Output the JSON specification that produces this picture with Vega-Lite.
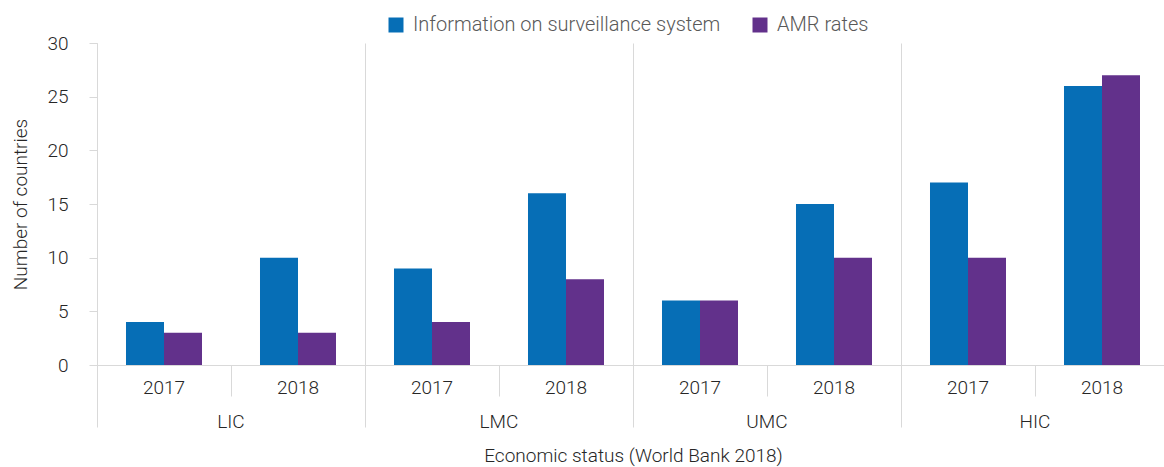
{
  "$schema": "https://vega.github.io/schema/vega-lite/v6.json",
  "width": 1072,
  "height": 322,
  "autosize": {"type": "none"},
  "padding": {"left": 97, "top": 43, "right": -5, "bottom": 102},
  "data": {
    "values": [
      {"group": "LIC", "year": "2017", "cat": "LIC 2017", "series": "Information on surveillance system", "value": 4},
      {"group": "LIC", "year": "2017", "cat": "LIC 2017", "series": "AMR rates", "value": 3},
      {"group": "LIC", "year": "2018", "cat": "LIC 2018", "series": "Information on surveillance system", "value": 10},
      {"group": "LIC", "year": "2018", "cat": "LIC 2018", "series": "AMR rates", "value": 3},
      {"group": "LMC", "year": "2017", "cat": "LMC 2017", "series": "Information on surveillance system", "value": 9},
      {"group": "LMC", "year": "2017", "cat": "LMC 2017", "series": "AMR rates", "value": 4},
      {"group": "LMC", "year": "2018", "cat": "LMC 2018", "series": "Information on surveillance system", "value": 16},
      {"group": "LMC", "year": "2018", "cat": "LMC 2018", "series": "AMR rates", "value": 8},
      {"group": "UMC", "year": "2017", "cat": "UMC 2017", "series": "Information on surveillance system", "value": 6},
      {"group": "UMC", "year": "2017", "cat": "UMC 2017", "series": "AMR rates", "value": 6},
      {"group": "UMC", "year": "2018", "cat": "UMC 2018", "series": "Information on surveillance system", "value": 15},
      {"group": "UMC", "year": "2018", "cat": "UMC 2018", "series": "AMR rates", "value": 10},
      {"group": "HIC", "year": "2017", "cat": "HIC 2017", "series": "Information on surveillance system", "value": 17},
      {"group": "HIC", "year": "2017", "cat": "HIC 2017", "series": "AMR rates", "value": 10},
      {"group": "HIC", "year": "2018", "cat": "HIC 2018", "series": "Information on surveillance system", "value": 26},
      {"group": "HIC", "year": "2018", "cat": "HIC 2018", "series": "AMR rates", "value": 27}
    ]
  },
  "config": {
    "view": {"stroke": null},
    "font": "Roboto",
    "axis": {
      "labelFont": "Roboto",
      "titleFont": "Roboto",
      "labelFontSize": 19,
      "titleFontSize": 19,
      "labelFontWeight": 300,
      "titleFontWeight": 300,
      "labelColor": "#262626",
      "titleColor": "#262626",
      "domainColor": "#d9d9d9",
      "tickColor": "#d9d9d9",
      "gridColor": "#d9d9d9"
    }
  },
  "layer": [
    {
      "mark": {"type": "bar"},
      "encoding": {
        "x": {
          "field": "cat",
          "type": "nominal",
          "sort": ["LIC 2017", "LIC 2018", "LMC 2017", "LMC 2018", "UMC 2017", "UMC 2018", "HIC 2017", "HIC 2018"],
          "scale": {"paddingInner": 0, "paddingOuter": 0},
          "axis": {
            "orient": "bottom",
            "title": null,
            "labelExpr": "split(datum.label, ' ')[1]",
            "labelAngle": 0,
            "bandPosition": 0,
            "tickSize": 31,
            "labelPadding": -18,
            "domain": true,
            "grid": false
          }
        },
        "xOffset": {
          "field": "series",
          "type": "nominal",
          "sort": ["Information on surveillance system", "AMR rates"],
          "scale": {"paddingInner": 0, "paddingOuter": 0.763}
        },
        "y": {
          "field": "value",
          "type": "quantitative",
          "scale": {"domain": [0, 30], "nice": false},
          "axis": {
            "values": [0, 5, 10, 15, 20, 25, 30],
            "title": "Number of countries",
            "grid": false,
            "tickSize": 8,
            "labelPadding": 21,
            "titlePadding": 16
          }
        },
        "color": {
          "field": "series",
          "type": "nominal",
          "scale": {
            "domain": ["Information on surveillance system", "AMR rates"],
            "range": ["#066eb6", "#62318b"]
          },
          "legend": {
            "orient": "none",
            "legendX": 289,
            "legendY": -28,
            "direction": "horizontal",
            "title": null,
            "symbolType": "square",
            "symbolSize": 225,
            "symbolStrokeWidth": 0,
            "labelFontSize": 20,
            "labelFontWeight": 300,
            "labelColor": "#595959",
            "labelFont": "Roboto",
            "labelOffset": 7,
            "columnPadding": 29,
            "labelLimit": 400,
            "padding": 0
          }
        }
      }
    },
    {
      "mark": {"type": "rule", "opacity": 0},
      "encoding": {
        "x": {
          "field": "group",
          "type": "nominal",
          "sort": ["LIC", "LMC", "UMC", "HIC"],
          "scale": {"paddingInner": 0, "paddingOuter": 0},
          "axis": {
            "orient": "bottom",
            "title": "Economic status (World Bank 2018)",
            "labelAngle": 0,
            "bandPosition": 0,
            "tickSize": 62,
            "labelPadding": -15,
            "domain": false,
            "grid": true,
            "titlePadding": 15
          }
        }
      }
    }
  ],
  "resolve": {"scale": {"x": "independent"}}
}
